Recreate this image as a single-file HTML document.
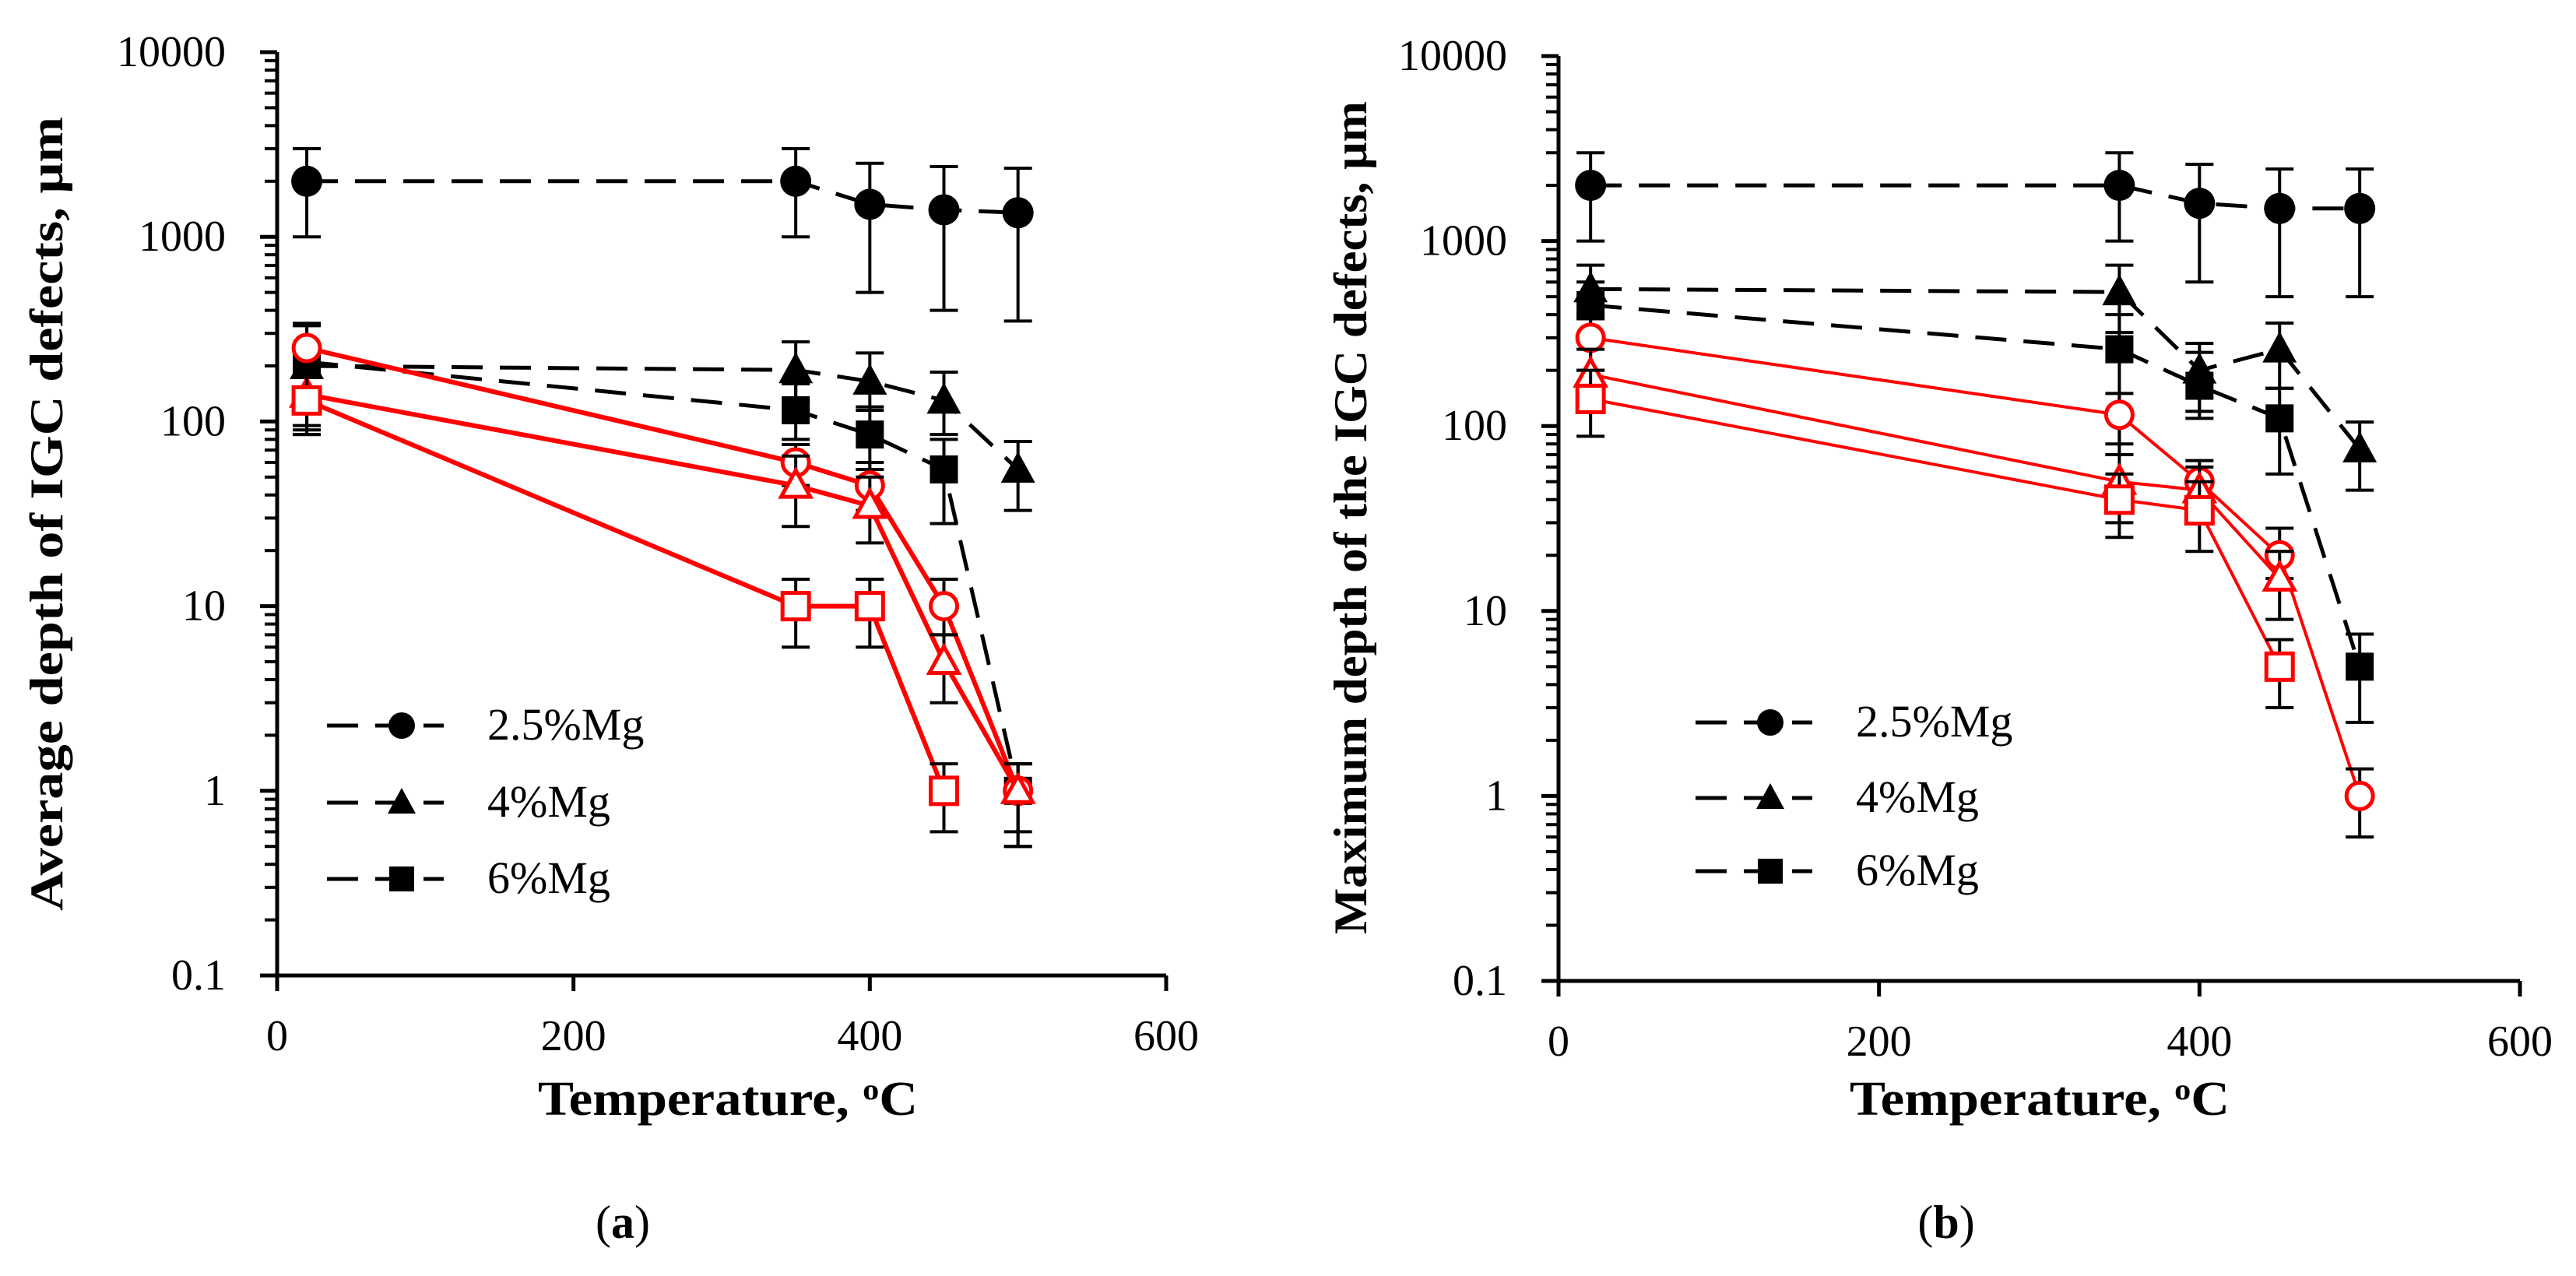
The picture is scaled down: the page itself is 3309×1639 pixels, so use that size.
<!DOCTYPE html>
<html><head><meta charset="utf-8"><style>body{margin:0;background:#fff}svg{display:block}text{font-family:"Liberation Serif",serif;fill:#000}</style></head>
<body>
<svg id="c" width="3309" height="1639" viewBox="0 0 3309 1639" xmlns="http://www.w3.org/2000/svg"></svg>
<script>
const temps=[20,350,400,450,500];
const xTicks=[0,200,400,600];
const yTicks=[0.1,1,10,100,1000,10000];
const yTickLabels=["0.1","1","10","100","1000","10000"];
// panel a
const a_mg25=[2000,2000,1500,1400,1350];
const a_mg25_lo=[1000,1000,500,400,350];
const a_mg25_hi=[3000,3000,2500,2400,2350];
const a_mg4=[200,190,165,130,55];
const a_mg4_lo=[85,130,115,85,33];
const a_mg4_hi=[340,270,235,185,78];
const a_mg6=[210,115,85,55,1];
const a_mg6_lo=[90,80,55,28,0.5];
const a_mg6_hi=[340,160,120,80,1.4];
const a_rc=[250,60,45,10,1];
const a_rc_lo=[180,45,33,7,0.6];
const a_rc_hi=[330,75,60,14,1.4];
const a_rt=[140,45,35,5,1];
const a_rt_lo=[95,27,22,3,0.5];
const a_rt_hi=[190,65,50,7,1.4];
const a_rs=[130,10,10,1,null];
const a_rs_lo=[85,6,6,0.6,null];
const a_rs_hi=[180,14,14,1.4,null];
// panel b
const b_mg25=[2000,2000,1600,1500,1500];
const b_mg25_lo=[1000,1000,600,500,500];
const b_mg25_hi=[3000,3000,2600,2450,2450];
const b_mg4=[550,530,200,260,75];
const b_mg4_lo=[380,320,120,160,45];
const b_mg4_hi=[740,740,280,360,105];
const b_mg6=[450,260,165,110,5];
const b_mg6_lo=[300,70,110,55,2.5];
const b_mg6_hi=[600,400,250,160,7.5];
const b_rc=[300,115,50,20,1];
const b_rc_lo=[200,80,35,15,0.6];
const b_rc_hi=[400,150,65,28,1.4];
const b_rt=[190,50,45,15,null];
const b_rt_lo=[120,30,30,9,null];
const b_rt_hi=[260,70,60,21,null];
const b_rs=[140,40,35,5,null];
const b_rs_lo=[88,25,21,3,null];
const b_rs_hi=[200,55,50,7,null];

const svg=document.getElementById('c');
const NS='http://www.w3.org/2000/svg';
function mk(tag,attrs,parent){const e=document.createElementNS(NS,tag);for(const k in attrs)e.setAttribute(k,attrs[k]);(parent||svg).appendChild(e);return e;}

function panel(P){
  const g=mk('g',{});
  
  
  const X=v=>P.x0+(P.x1-P.x0)*v/600;
  const Y=v=>P.y1-(P.y1-P.y0)*(Math.log10(v)+1)/5;
  const ax=mk('path',{d:`M${P.x0} ${P.y0}V${P.y1}H${P.x1}`,stroke:'#000','stroke-width':5,fill:'none'},g);
  
  
  for(let d=-1;d<4;d++){for(let m=2;m<=9;m++){mk('line',{x1:P.x0-16,x2:P.x0,y1:Y(m*Math.pow(10,d)),y2:Y(m*Math.pow(10,d)),stroke:'#000','stroke-width':4},g);}}
  yTicks.forEach((t,i)=>{
    mk('line',{x1:P.x0-22,x2:P.x0,y1:Y(t),y2:Y(t),stroke:'#000','stroke-width':5},g);
    const tx=mk('text',{x:P.x0-66,y:Y(t)+18,'text-anchor':'end','font-size':56},g);
    tx.textContent=yTickLabels[i];
    
    
  });
  xTicks.forEach(t=>{
    mk('line',{x1:X(t),x2:X(t),y1:P.y1,y2:P.y1+20,stroke:'#000','stroke-width':5},g);
    const tx=mk('text',{x:X(t),y:P.y1+96,'text-anchor':'middle','font-size':56},g);
    tx.textContent=String(t);
    
    
  });
  const xt=mk('text',{x:P.xtx,y:1432,'text-anchor':'middle','font-size':62,'font-weight':'bold',textLength:488,lengthAdjust:'spacingAndGlyphs'},g);
  xt.innerHTML='Temperature, <tspan font-size="38" dy="-20">o</tspan><tspan dy="20">C</tspan>';
  
  
  const yt=mk('text',{x:0,y:0,'text-anchor':'middle','font-size':60,'font-weight':'bold',transform:`translate(${P.ytx},${P.yty}) rotate(-90)`,textLength:P.ytl,lengthAdjust:'spacingAndGlyphs'},g);
  yt.textContent=P.ytitle;
  
  
  const cap=mk('text',{x:P.capx,y:1590,'text-anchor':'middle','font-size':60},g);
  cap.innerHTML='(<tspan font-weight="bold">'+P.letter+'</tspan>)';
  
  

  function series(name,vals,lo,hi,color,dash,lw,marker,filled,r){
    const sg=mk('g',{},g);
    
    
    let d='';
    vals.forEach((v,i)=>{if(v!=null)d+=(d?'L':'M')+X(temps[i])+' '+Y(v);});
    mk('path',{d,stroke:color,'stroke-width':lw,fill:'none','stroke-dasharray':dash||'none'},sg);
    vals.forEach((v,i)=>{
      if(v==null)return;
      const x=X(temps[i]);
      mk('path',{d:`M${x} ${Y(lo[i])}V${Y(hi[i])}M${x-18} ${Y(lo[i])}H${x+18}M${x-18} ${Y(hi[i])}H${x+18}`,stroke:'#000','stroke-width':4,fill:'none'},sg);
    });
    vals.forEach((v,i)=>{
      if(v==null)return;
      const x=X(temps[i]),y=Y(v);
      const st={fill:filled?'#000':'#fff',stroke:color,'stroke-width':filled?0:5};
      let m;
      if(marker==='c')m=mk('circle',Object.assign({cx:x,cy:y,r:r},st),sg);
      else if(marker==='s')m=mk('rect',Object.assign({x:x-r,y:y-r,width:2*r,height:2*r},st),sg);
      else m=mk('path',Object.assign({d:`M${x} ${y-r*1.15}L${x+r*1.1} ${y+r*0.85}H${x-r*1.1}Z`},st),sg);
      
      
    });
  }
  const D=P.data;
  series('series-2-5-mg',D[0],D[1],D[2],'#000','40 22',5,'c',true,20);
  series('series-4-mg',D[3],D[4],D[5],'#000','40 22',5,'t',true,20);
  series('series-6-mg',D[6],D[7],D[8],'#000','40 22',5,'s',true,18);
  series('series-red-circle',D[9],D[10],D[11],'#f00',null,P.rw,'c',false,17);
  series('series-red-triangle',D[12],D[13],D[14],'#f00',null,P.rw,'t',false,17);
  series('series-red-square',D[15],D[16],D[17],'#f00',null,P.rw,'s',false,17);
  const labels=['2.5%Mg','4%Mg','6%Mg'];const mks=['c','t','s'];
  P.leg.forEach((ly,i)=>{
    const lg=mk('g',{},g);
    
    
    const lx=P.legx;
    mk('line',{x1:lx,x2:lx+150,y1:ly,y2:ly,stroke:'#000','stroke-width':5,'stroke-dasharray':'40 22'},lg);
    const cx=lx+96;
    if(mks[i]==='c')mk('circle',{cx,cy:ly,r:17},lg);
    else if(mks[i]==='s')mk('rect',{x:cx-16,y:ly-16,width:32,height:32},lg);
    else mk('path',{d:`M${cx} ${ly-19}L${cx+18} ${ly+14}H${cx-18}Z`},lg);
    const t=mk('text',{x:lx+206,y:ly+18,'font-size':58},lg);
    t.textContent=labels[i];
  });
}
panel({name:'panel-a',letter:'a',x0:356,x1:1498,y0:67,y1:1253,xtx:935,ytx:80,yty:660,ytl:1020,capx:800,
  ytitle:'Average depth of IGC defects, μm',legx:420,leg:[932,1031,1129],rw:6,
  data:[a_mg25,a_mg25_lo,a_mg25_hi,a_mg4,a_mg4_lo,a_mg4_hi,a_mg6,a_mg6_lo,a_mg6_hi,a_rc,a_rc_lo,a_rc_hi,a_rt,a_rt_lo,a_rt_hi,a_rs,a_rs_lo,a_rs_hi]});
panel({name:'panel-b',letter:'b',x0:2002,x1:3237,y0:72,y1:1260,xtx:2620,ytx:1755,yty:665,ytl:1070,capx:2500,
  ytitle:'Maximum depth of the IGC defects, μm',legx:2178,leg:[928,1025,1119],rw:4,
  data:[b_mg25,b_mg25_lo,b_mg25_hi,b_mg4,b_mg4_lo,b_mg4_hi,b_mg6,b_mg6_lo,b_mg6_hi,b_rc,b_rc_lo,b_rc_hi,b_rt,b_rt_lo,b_rt_hi,b_rs,b_rs_lo,b_rs_hi]});
</script>
</body></html>
